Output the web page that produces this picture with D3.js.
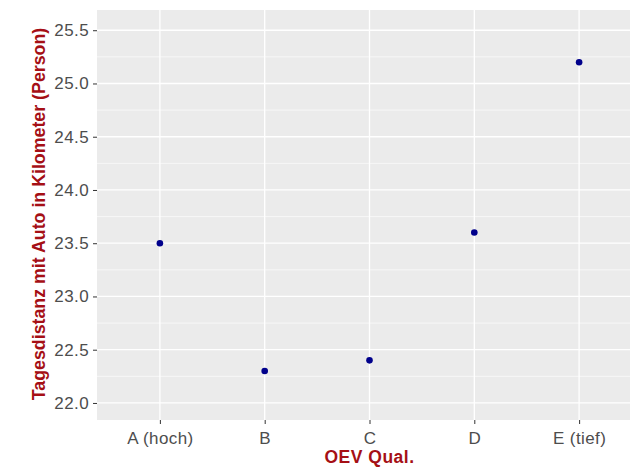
<!DOCTYPE html>
<html>
<head>
<meta charset="utf-8">
<script src="https://cdn.jsdelivr.net/npm/d3@7"></script>
<style>
  body { margin: 0; background: #fff; }
  svg text { font-family: "Liberation Sans", Arial, sans-serif; }
</style>
</head>
<body>
<div id="chart"></div>
<script>
// Daten
const categories = ["A (hoch)", "B", "C", "D", "E (tief)"];
const distances = [23.5, 22.3, 22.4, 23.6, 25.2];
const yTicks = [22.0, 22.5, 23.0, 23.5, 24.0, 24.5, 25.0, 25.5];
const yMinor = [22.25, 22.75, 23.25, 23.75, 24.25, 24.75, 25.25];

const width = 630, height = 471;
const panel = { left: 97, top: 10, right: 642, bottom: 420 };

const svg = d3.select("#chart").append("svg")
    .attr("width", width)
    .attr("height", height);

const x = d3.scalePoint()
    .domain(categories)
    .range([panel.left, panel.right])
    .padding(0.6);

const y = d3.scaleLinear()
    .domain([21.84, 25.69])
    .range([panel.bottom, panel.top]);

// Panel-Hintergrund
svg.append("rect")
    .attr("x", panel.left)
    .attr("y", panel.top)
    .attr("width", panel.right - panel.left)
    .attr("height", panel.bottom - panel.top)
    .style("fill", "#ebebeb");

// Gitterlinien
svg.selectAll(".minor")
    .data(yMinor)
    .enter().append("line")
    .attr("x1", panel.left).attr("x2", panel.right)
    .attr("y1", d => y(d)).attr("y2", d => y(d))
    .style("stroke", "#fff").style("stroke-width", 0.6);

svg.selectAll(".major")
    .data(yTicks)
    .enter().append("line")
    .attr("x1", panel.left).attr("x2", panel.right)
    .attr("y1", d => y(d)).attr("y2", d => y(d))
    .style("stroke", "#fff").style("stroke-width", 1.3);

svg.selectAll(".vgrid")
    .data(categories)
    .enter().append("line")
    .attr("x1", d => x(d)).attr("x2", d => x(d))
    .attr("y1", panel.top).attr("y2", panel.bottom)
    .style("stroke", "#fff").style("stroke-width", 1.3);

// Achsen
const yAxis = svg.append("g")
    .attr("transform", `translate(${panel.left},0)`)
    .call(d3.axisLeft(y).tickValues(yTicks).tickFormat(d3.format(".1f")).tickSize(4).tickPadding(4));

const xAxis = svg.append("g")
    .attr("transform", `translate(0,${panel.bottom})`)
    .call(d3.axisBottom(x).tickSize(4).tickPadding(8));

[yAxis, xAxis].forEach(a => {
    a.select(".domain").remove();
    a.selectAll(".tick line").style("stroke", "#333").style("stroke-width", 1);
    a.selectAll(".tick text")
        .style("fill", "#4d4d4d")
        .style("font-size", "17px")
        .style("letter-spacing", "0.4px");
});

// Punkte
svg.selectAll(".pt")
    .data(categories)
    .enter().append("circle")
    .attr("cx", d => x(d))
    .attr("cy", (d, i) => y(distances[i]))
    .attr("r", 3.3)
    .style("fill", "#00008b");

// Achsentitel
svg.append("text")
    .attr("x", x("C"))
    .attr("y", 463)
    .attr("text-anchor", "middle")
    .style("fill", "#a50f15")
    .style("font-weight", "bold")
    .style("font-size", "17.5px")
    .style("letter-spacing", "0.5px")
    .text("OEV Qual.");

svg.append("text")
    .attr("transform", "translate(45,214) rotate(-90)")
    .attr("text-anchor", "middle")
    .style("fill", "#a50f15")
    .style("font-weight", "bold")
    .style("font-size", "17.8px")
    .text("Tagesdistanz mit Auto in Kilometer (Person)");
</script>
</body>
</html>
